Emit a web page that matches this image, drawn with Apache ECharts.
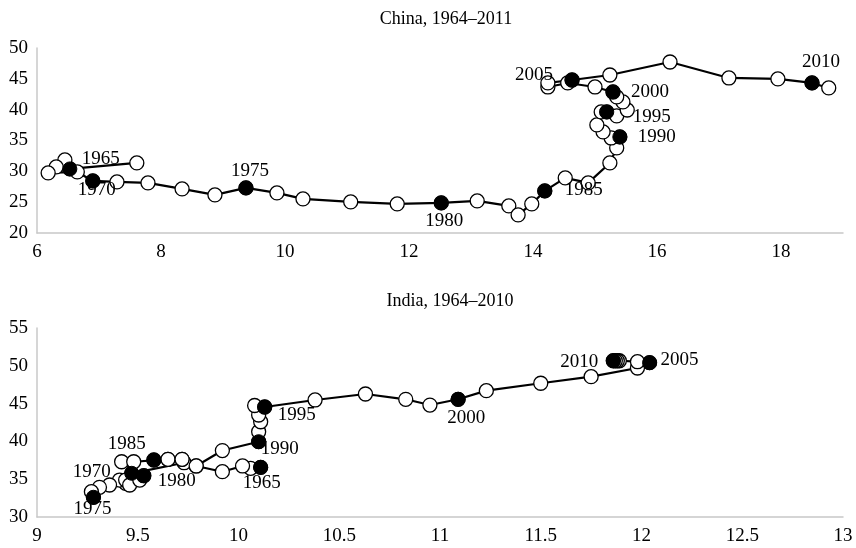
<!DOCTYPE html>
<html><head><meta charset="utf-8">
<script src="https://cdn.jsdelivr.net/npm/echarts@6/dist/echarts.min.js"></script>
<style>html,body{margin:0;padding:0;background:#fff}#c{width:856px;height:548px}</style>
</head><body><div id="c"></div>
<script>
// China, 1964–2011
var chinaStart = 1964;
var chinaX = [7.61,6.53,6.45,6.31,6.18,6.65,6.90,7.29,7.79,8.34,8.87,9.37,9.87,10.29,11.06,11.81,12.52,13.10,13.61,13.76,13.98,14.19,14.52,14.89,15.24,15.35,15.40,15.26,15.13,15.03,15.10,15.19,15.35,15.52,15.45,15.35,15.29,15.00,14.56,14.24,14.24,14.63,15.24,16.21,17.16,17.95,18.50,18.77];
var chinaY = [31.36,30.39,31.85,30.71,29.74,29.90,28.44,28.28,28.12,27.15,26.18,27.31,26.50,25.53,25.04,24.72,24.88,25.20,24.39,22.93,24.72,26.82,28.93,28.12,31.36,33.79,35.58,35.41,36.39,37.52,39.63,39.63,38.98,39.95,41.25,42.06,42.87,43.68,44.33,43.68,44.33,44.81,45.62,47.73,45.14,44.98,44.33,43.52];
var chinaMarked = [1965,1970,1975,1980,1985,1990,1995,2000,2005,2010];

// India, 1964–2010
var indiaStart = 1964;
var indiaX = [10.06,10.11,10.02,9.92,9.79,9.73,9.47,9.44,9.41,9.36,9.31,9.28,9.27,9.44,9.46,9.51,9.53,9.42,9.48,9.65,9.72,9.58,9.65,9.72,9.79,9.92,10.10,10.10,10.11,10.10,10.08,10.13,10.38,10.63,10.83,10.95,11.09,11.23,11.50,11.75,11.98,12.04,11.98,11.89,11.88,11.87,11.86];
var indiaY = [36.44,36.57,36.75,35.99,36.75,37.18,35.78,34.46,34.89,34.23,33.93,32.61,33.35,34.89,34.23,34.89,35.46,37.31,37.31,37.63,37.63,37.54,37.63,37.63,36.75,38.79,39.96,41.28,42.60,43.49,44.75,44.55,45.48,46.27,45.57,44.81,45.57,46.71,47.69,48.56,49.71,50.41,50.54,50.67,50.67,50.67,50.67];
var indiaMarked = [1965,1970,1975,1980,1985,1990,1995,2000,2005,2010];

// tick settings
var chinaXTicks = {min: 6, max: 19, step: 2};
var chinaYTicks = {min: 20, max: 50, step: 5};
var indiaXTicks = {min: 9, max: 13, step: 0.5};
var indiaYTicks = {min: 30, max: 55, step: 5};

// label placement (pixel offsets from marker centre) — style only
var chinaLabelOffset = {1965:[31,-10],1970:[4,9],1975:[4,-17],1980:[3,18],1985:[39,-1],1990:[37,0],1995:[45,5],2000:[37,0],2005:[-38,-5],2010:[9,-21]};
var indiaLabelOffset = {1965:[1,16],1970:[-40,-1],1975:[-1,12],1980:[33,5],1985:[-27,-16],1990:[21,7],1995:[32,8],2000:[8,19],2005:[30,-3],2010:[-34,1]};

var FONT = '"Liberation Serif", "DejaVu Serif", serif';

function pts(xs, ys){ var o=[]; for (var i=0;i<xs.length;i++) o.push([xs[i], ys[i]]); return o; }
function marked(xs, ys, start, years, offs){
  return years.map(function(y){
    var i = y - start;
    return {value:[xs[i], ys[i]], name:String(y),
      label:{show:true, position:'inside', offset:offs[y], formatter:String(y)}};
  });
}
function xAxis(t, idx){
  return {type:'value', gridIndex:idx, min:t.min, max:t.max, interval:t.step,
    splitLine:{show:false}, axisTick:{show:false},
    axisLine:{show:true, lineStyle:{color:'#c8c8c8', width:1.5}},
    axisLabel:{color:'#000', fontFamily:FONT, fontSize:19, margin:10,
      formatter:function(v){ var k=(v-t.min)/t.step; return Math.abs(k-Math.round(k))<1e-6 ? String(v) : ''; }}};
}
function yAxis(t, idx){
  return {type:'value', gridIndex:idx, min:t.min, max:t.max, interval:t.step,
    splitLine:{show:false}, axisTick:{show:false},
    axisLine:{show:true, lineStyle:{color:'#c8c8c8', width:1.5}},
    axisLabel:{color:'#000', fontFamily:FONT, fontSize:19, margin:9}};
}
var lineSeries = function(idx, data){
  return {type:'line', xAxisIndex:idx, yAxisIndex:idx, data:data, symbol:'circle', symbolSize:14,
    itemStyle:{color:'#fff', borderColor:'#000', borderWidth:1.3, opacity:1},
    lineStyle:{color:'#000', width:2.2}, z:2, animation:false};
};
var dotSeries = function(idx, data){
  return {type:'scatter', xAxisIndex:idx, yAxisIndex:idx, data:data, symbol:'circle', symbolSize:14,
    itemStyle:{color:'#000', borderColor:'#000', borderWidth:1, opacity:1},
    label:{color:'#000', fontFamily:FONT, fontSize:19, opacity:1}, z:3, animation:false};
};

var chart = echarts.init(document.getElementById('c'), null, {renderer:'canvas'});
chart.setOption({
  animation:false,
  title:[
    {text:'China, 1964\u20132011', left:441, top:5, textAlign:'center', textStyle:{fontFamily:FONT, fontSize:18, fontWeight:'normal', color:'#000'}},
    {text:'India, 1964\u20132010', left:445, top:287, textAlign:'center', textStyle:{fontFamily:FONT, fontSize:18, fontWeight:'normal', color:'#000'}}
  ],
  grid:[
    {left:37, width:806, top:48, height:185},
    {left:37, width:806, top:328, height:189}
  ],
  xAxis:[xAxis(chinaXTicks,0), xAxis(indiaXTicks,1)],
  yAxis:[yAxis(chinaYTicks,0), yAxis(indiaYTicks,1)],
  series:[
    lineSeries(0, pts(chinaX, chinaY)),
    dotSeries(0, marked(chinaX, chinaY, chinaStart, chinaMarked, chinaLabelOffset)),
    lineSeries(1, pts(indiaX, indiaY)),
    dotSeries(1, marked(indiaX, indiaY, indiaStart, indiaMarked, indiaLabelOffset))
  ]
});
</script></body></html>
